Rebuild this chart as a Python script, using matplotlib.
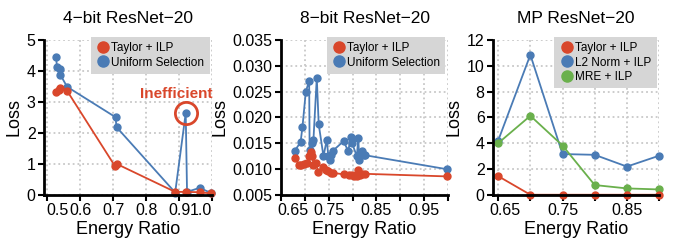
import matplotlib
matplotlib.use("Agg")
import matplotlib.pyplot as plt
from matplotlib.lines import Line2D
from matplotlib.transforms import ScaledTranslation

plt.rcParams['font.family'] = ['Liberation Sans', 'DejaVu Sans']

red = '#D9472B'
blue = '#4A7BB5'
green = '#6AB04C'
legend_gray = '#D6D6D6'

# 4-bit ResNet-20
p1_taylor_x = [0.527, 0.534, 0.539, 0.560, 0.706, 0.711, 0.888, 0.920, 0.962, 0.998]
p1_taylor_y = [3.31, 3.38, 3.44, 3.36, 0.92, 1.00, 0.10, 0.10, 0.09, 0.05]
p1_uniform_x = [0.527, 0.529, 0.539, 0.540, 0.560, 0.707, 0.710, 0.888, 0.920, 0.924, 0.962, 0.998]
p1_uniform_y = [4.45, 4.13, 4.05, 3.87, 3.49, 2.51, 2.19, 0.08, 2.64, 0.10, 0.23, 0.06]

# 8-bit ResNet-20
p2_taylor_x = [0.679, 0.688, 0.692, 0.698, 0.704, 0.709, 0.712, 0.716, 0.718, 0.723, 0.728,
               0.739, 0.744, 0.749, 0.754, 0.758, 0.781, 0.793, 0.798, 0.804, 0.809, 0.812,
               0.815, 0.820, 0.826, 0.997]
p2_taylor_y = [0.0122, 0.0108, 0.0109, 0.0110, 0.0111, 0.0126, 0.0133, 0.0125, 0.0108, 0.0112, 0.0094,
               0.0104, 0.0099, 0.0096, 0.0093, 0.0093, 0.0090, 0.0088, 0.0088, 0.0087, 0.0086, 0.0098,
               0.0089, 0.0090, 0.0091, 0.0086]
p2_uniform_x = [0.679, 0.691, 0.695, 0.702, 0.709, 0.710, 0.714, 0.718, 0.725, 0.729, 0.739,
                0.746, 0.749, 0.752, 0.755, 0.758, 0.781, 0.791, 0.796, 0.799, 0.809, 0.812,
                0.814, 0.819, 0.823, 0.826, 0.997]
p2_uniform_y = [0.0136, 0.0152, 0.0182, 0.0250, 0.0271, 0.0137, 0.0150, 0.0157, 0.0277, 0.0187, 0.0125,
                0.0157, 0.0126, 0.0117, 0.0128, 0.0135, 0.0154, 0.0135, 0.0162, 0.0150, 0.0125, 0.0161,
                0.0118, 0.0135, 0.0128, 0.0127, 0.0100]

# MP ResNet-20
p3_x = [0.65, 0.70, 0.75, 0.80, 0.85, 0.90]
p3_taylor = [1.46, 0.02, 0.02, 0.02, 0.02, 0.02]
p3_l2 = [4.21, 10.85, 3.17, 3.11, 2.20, 3.04]
p3_mre = [4.01, 6.13, 3.83, 0.77, 0.51, 0.43]

titles = ['4-bit ResNet-20', '8-bit ResNet-20', 'MP ResNet-20']


def style_axes(ax, title):
    ax.set_title(title.replace('-', '\u2212'), fontsize=12.5, pad=12)
    ax.set_xlabel('Energy Ratio', fontsize=13, labelpad=2)
    ax.set_ylabel('Loss', fontsize=13, labelpad=3)
    for s in ['top', 'right']:
        ax.spines[s].set_visible(False)
    for s in ['left', 'bottom']:
        ax.spines[s].set_linewidth(2)
    ax.tick_params(labelsize=11.5, width=1.5, length=4, pad=2)
    ax.grid(True, linestyle=':', color='#C8C8C8', linewidth=1.3)
    ax.set_axisbelow(True)


def add_legend(ax, labels, colors):
    handles = [Line2D([], [], marker='o', linestyle='none', color=c, markersize=8) for c in colors]
    leg = ax.legend(handles, labels, loc='upper right', bbox_to_anchor=(0.985, 1.02),
                    fontsize=8.5, frameon=True, fancybox=False, handletextpad=0.1,
                    borderpad=0.45, labelspacing=0.2, handlelength=1.2, borderaxespad=0)
    leg.get_frame().set_facecolor(legend_gray)
    leg.get_frame().set_edgecolor('none')
    leg.get_frame().set_alpha(1)


def shift_label(fig, label, dx):
    label.set_transform(label.get_transform() + ScaledTranslation(dx / 100, 0, fig.dpi_scale_trans))


def series(ax, x, y, color):
    ax.plot(x, y, color=color, linewidth=1.3, marker='o', markersize=5, clip_on=False)


fig = plt.figure(figsize=(6.75, 2.4), dpi=100)
ax1 = fig.add_axes([0.0652, 0.1875, 0.249, 0.646])
ax2 = fig.add_axes([0.4163, 0.1875, 0.2474, 0.646])
ax3 = fig.add_axes([0.7304, 0.1875, 0.246, 0.646])

# panel 1
series(ax1, p1_uniform_x, p1_uniform_y, blue)
series(ax1, p1_taylor_x, p1_taylor_y, red)
ax1.set_xlim(0.49, 1.0)
ax1.set_ylim(0, 5)
ax1.set_xticks([0.5, 0.6, 0.7, 0.8, 0.9, 1.0])
ax1.set_xticklabels(['0.5', '0.6', '0.7', '0.8', '0.9', '1.0'])
ax1.set_yticks([0, 1, 2, 3, 4, 5])
style_axes(ax1, titles[0])
add_legend(ax1, ['Taylor + ILP', 'Uniform Selection'], [red, blue])
ax1.plot([p1_uniform_x[8]], [p1_uniform_y[8]], marker='o', markersize=16, markerfacecolor='none',
         markeredgecolor=red, markeredgewidth=2, clip_on=False)
ax1.text(0.89, 3.27, 'Inefficient', color=red, fontsize=11, fontweight='bold', ha='center', va='center')

# panel 2
series(ax2, p2_uniform_x, p2_uniform_y, blue)
series(ax2, p2_taylor_x, p2_taylor_y, red)
ax2.set_xlim(0.65, 1.0)
ax2.set_ylim(0.005, 0.035)
ax2.set_xticks([0.65, 0.70, 0.75, 0.80, 0.85, 0.90, 0.95, 1.0])
ax2.set_xticklabels(['0.65', '', '0.75', '', '0.85', '', '0.95', ''])
ax2.set_yticks([0.005, 0.010, 0.015, 0.020, 0.025, 0.030, 0.035])
ax2.set_yticklabels(['0.005', '0.010', '0.015', '0.020', '0.025', '0.030', '0.035'])
style_axes(ax2, titles[1])
add_legend(ax2, ['Taylor + ILP', 'Uniform Selection'], [red, blue])

# panel 3
series(ax3, p3_x, p3_l2, blue)
series(ax3, p3_x, p3_mre, green)
series(ax3, p3_x, p3_taylor, red)
ax3.set_xlim(0.642, 0.9)
ax3.set_ylim(0, 12)
ax3.set_xticks([0.65, 0.70, 0.75, 0.80, 0.85, 0.90])
ax3.set_xticklabels(['0.65', '', '0.75', '', '0.85', ''])
ax3.set_yticks([0, 2, 4, 6, 8, 10, 12])
style_axes(ax3, titles[2])
add_legend(ax3, ['Taylor + ILP', 'L2 Norm + ILP', 'MRE + ILP'], [red, blue, green])

# edge tick labels pushed inward like the original
shift_label(fig, ax1.get_xticklabels()[0], 10)
shift_label(fig, ax1.get_xticklabels()[-1], -11)
shift_label(fig, ax2.get_xticklabels()[0], 12)
shift_label(fig, ax3.get_xticklabels()[0], 7)

fig.savefig('out.png', dpi=100)
